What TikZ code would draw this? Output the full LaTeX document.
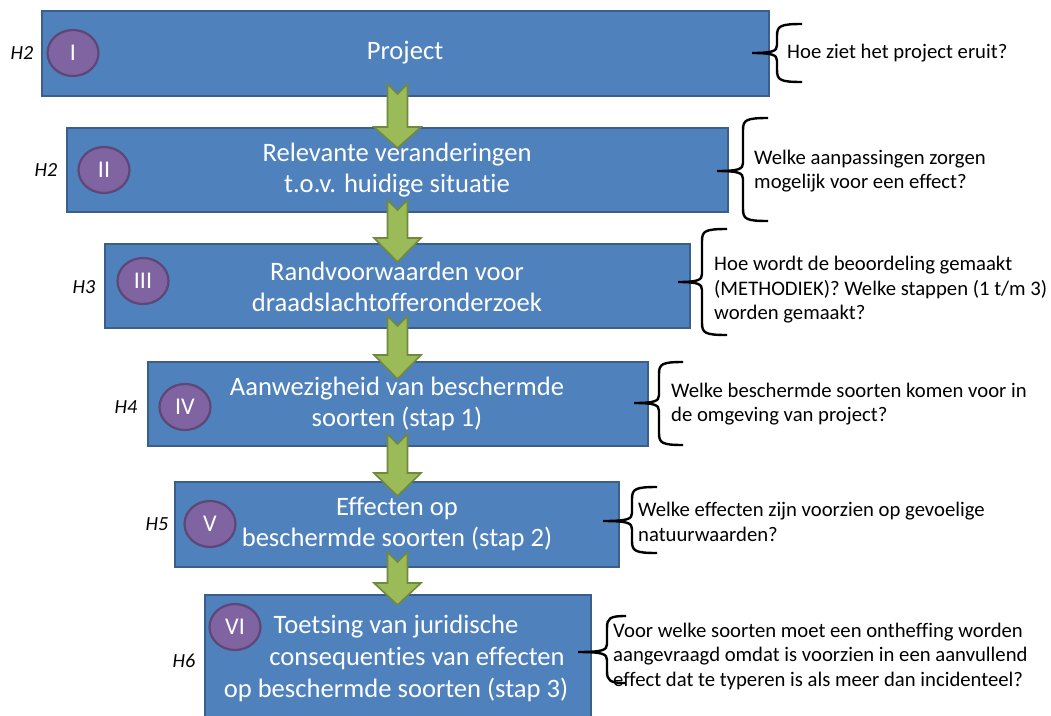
\documentclass[tikz,border=0pt]{standalone}
\usepackage{fontspec}
\setmainfont{Carlito}[Ligatures=NoCommon]
\usetikzlibrary{shapes.geometric}
\definecolor{boxfill}{HTML}{4F81BD}
\definecolor{boxborder}{HTML}{3A5F8B}
\definecolor{circfill}{HTML}{8064A2}
\definecolor{circborder}{HTML}{5C4776}
\definecolor{arrfill}{HTML}{9BBB59}
\definecolor{arrborder}{HTML}{71893F}
\newcommand\myarrow[3]{\draw[arr] (387.5,#1) -- (397.5,{#1+10}) -- (407.5,#1) -- (407.5,#2) -- (421,#2) -- (397.5,#3) -- (374,#2) -- (387.5,#2) -- cycle;}
\newcommand\mybrace[6]{\draw[brc] (#1,#4) .. controls ({#2+3},#4) and (#2,{#4+2}) .. (#2,{#4+12}) -- (#2,{#5-8}) .. controls (#2,{#5-2}) and ({#2-4},#5) .. (#3,#5) .. controls ({#2-4},#5) and (#2,{#5+2}) .. (#2,{#5+8}) -- (#2,{#6-12}) .. controls (#2,{#6-2}) and ({#2+3},#6) .. (#1,#6);}
\begin{document}
\begin{tikzpicture}[x=1pt,y=-1pt,
  box/.style={rectangle, draw=boxborder, fill=boxfill, line width=1.6pt, inner sep=0pt},
  btext/.style={text=white, align=center, font=\fontsize{26.6}{30.5}\selectfont, inner sep=0pt},
  circ/.style={ellipse, draw=circborder, fill=circfill, line width=2.2pt, minimum width=51, minimum height=46, inner sep=0pt, text=white, font=\fontsize{24}{26}\selectfont},
  hlab/.style={font=\fontsize{20}{22}\selectfont\itshape, inner sep=0pt},
  qtext/.style={align=left, anchor=west, font=\fontsize{20.7}{24.5}\selectfont, inner sep=0pt},
  arr/.style={draw=arrborder, fill=arrfill, line width=1.6pt, line join=miter},
  brc/.style={draw=black, line width=2.4pt}]
\useasboundingbox (0,0) rectangle (1051,715);
\clip (0,0) rectangle (1051,715);
% boxes
\node[box, minimum width=727, minimum height=85] (b1) at (405.5,53.5) {};
\node[box, minimum width=661, minimum height=84] (b2) at (397.5,170) {};
\node[box, minimum width=585, minimum height=84] (b3) at (397.5,286) {};
\node[box, minimum width=500, minimum height=84] (b4) at (398,404) {};
\node[box, minimum width=444, minimum height=85] (b5) at (397,524.5) {};
\node[box, minimum width=386, minimum height=150] (b6) at (398,670) {};
% arrows
\myarrow{84}{127}{148}
\myarrow{200}{238}{262}
\myarrow{316}{355}{379}
\myarrow{434}{473}{496}
\myarrow{552}{583}{605}
% box texts
\node[btext] (t1) at (405,53) {Project};
\node[btext] (t2) at (397,170) {Relevante veranderingen\\t.o.v. huidige situatie};
\node[btext] (t3) at (397,287) {Randvoorwaarden voor\\draadslachtofferonderzoek};
\node[btext] (t4) at (397,404) {Aanwezigheid van beschermde\\soorten (stap 1)};
\node[btext] (t5) at (397,524) {Effecten op\\beschermde soorten (stap 2)};
\node[btext] (t6a) at (396,627) {Toetsing van juridische};
\node[btext] (t6b) at (417,658) {consequenties van effecten};
\node[btext] (t6c) at (396,690) {op beschermde soorten (stap 3)};
% circles
\node[circ] (c1) at (73,53) {I};
\node[circ] (c2) at (104,170) {II};
\node[circ] (c3) at (143,281) {III};
\node[circ] (c4) at (185,407) {IV};
\node[circ] (c5) at (210,524) {V};
\node[circ] (c6) at (235,627) {VI};
% H labels
\node[hlab] (h1) at (22,53) {H2};
\node[hlab] (h2) at (46,170) {H2};
\node[hlab] (h3) at (84,287) {H3};
\node[hlab] (h4) at (126,407) {H4};
\node[hlab] (h5) at (157,524) {H5};
\node[hlab] (h6) at (184,661) {H6};
% braces
\mybrace{802}{777}{752}{24}{53}{82}
\mybrace{768}{743}{717}{118}{171}{221}
\mybrace{727}{702}{678}{229}{282}{335}
\mybrace{683}{659}{634}{362}{403}{445}
\mybrace{657}{632}{603}{487}{521}{553}
\mybrace{626}{607}{578}{616}{652}{683}
% questions
\node[qtext] (q1) at (787,53) {Hoe ziet het project eruit?};
\node[qtext] (q2) at (754,171) {Welke aanpassingen zorgen\\mogelijk voor een effect?};
\node[qtext] (q3) at (714,290) {Hoe wordt de beoordeling gemaakt\\(METHODIEK)? Welke stappen (1 t/m 3)\\worden gemaakt?};
\node[qtext] (q4) at (671,404) {Welke beschermde soorten komen voor in\\de omgeving van project?};
\node[qtext] (q5) at (638,522) {Welke effecten zijn voorzien op gevoelige\\natuurwaarden?};
\node[qtext] (q6) at (613,656) {Voor welke soorten moet een ontheffing worden\\aangevraagd omdat is voorzien in een aanvullend\\effect dat te typeren is als meer dan incidenteel?};
\end{tikzpicture}
\end{document}
